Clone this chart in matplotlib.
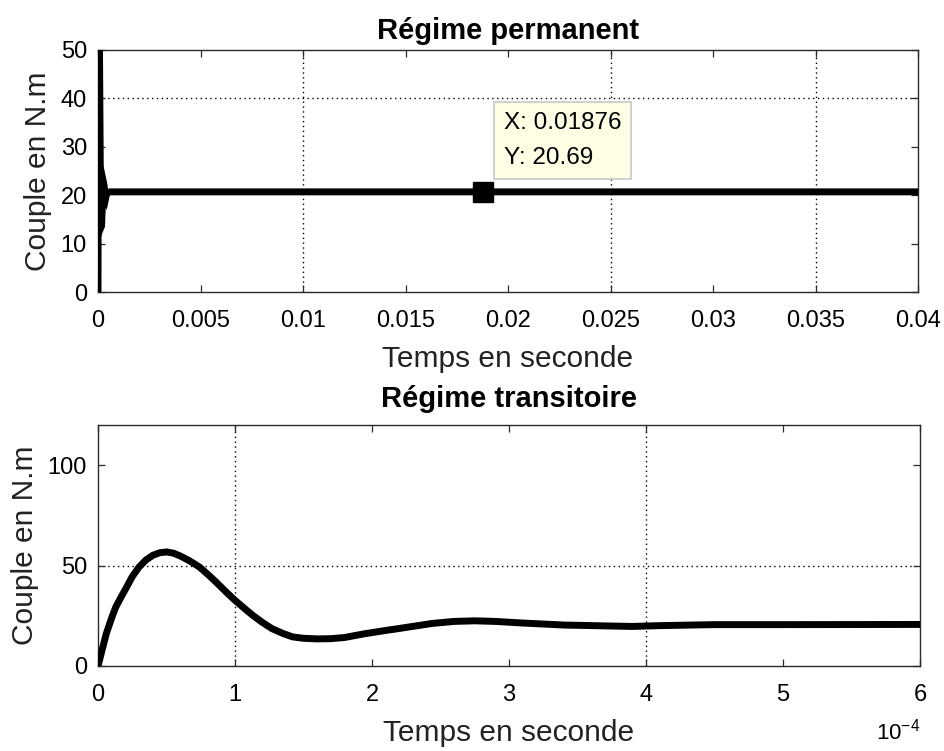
import numpy as np
import matplotlib
matplotlib.use("Agg")
import matplotlib.pyplot as plt
from matplotlib.ticker import FuncFormatter

plt.rcParams['font.family'] = ['Liberation Sans', 'DejaVu Sans']
plt.rcParams['mathtext.fontset'] = 'custom'
plt.rcParams['mathtext.rm'] = 'Liberation Sans'
plt.rcParams['mathtext.it'] = 'Liberation Sans'

# Electromagnetic torque of the machine during start-up (time in units of 1e-4 s)
temps_1e4 = [0.00, 0.03, 0.06, 0.10, 0.13, 0.17, 0.21, 0.25, 0.30, 0.35, 0.40,
             0.45, 0.50, 0.55, 0.60, 0.67, 0.74, 0.80, 0.86, 0.93, 1.00, 1.07,
             1.13, 1.20, 1.27, 1.35, 1.42, 1.50, 1.60, 1.70, 1.80, 1.95, 2.10,
             2.20, 2.44, 2.60, 2.75, 2.90, 3.10, 3.40, 3.75, 3.90, 4.10, 4.50,
             5.00, 6.00]
couple_trans = [0.0, 8.0, 16.0, 24.0, 29.4, 34.5, 39.4, 44.5, 49.3, 52.8, 55.1,
                56.4, 56.8, 56.2, 54.8, 52.3, 49.3, 45.7, 41.9, 37.2, 32.7, 28.6,
                25.2, 21.7, 18.6, 16.2, 14.5, 13.8, 13.5, 13.6, 14.2, 16.1, 17.7,
                18.7, 21.2, 22.2, 22.5, 22.2, 21.4, 20.4, 19.9, 19.7, 20.1, 20.6,
                20.6, 20.69]

# Steady-state part of the simulation (seconds)
temps_perm = [0.01876, 0.04]
couple_perm = [20.69, 20.69]

# Data cursor
tip_x = 0.01876
tip_y = 20.69

temps = np.concatenate([np.array(temps_1e4) * 1e-4, temps_perm])
couple = np.concatenate([couple_trans, couple_perm])

# Upper plot settings
xticks_top = [0, 0.005, 0.01, 0.015, 0.02, 0.025, 0.03, 0.035, 0.04]
xtick_labels_top = ['0', '0.005', '0.01', '0.015', '0.02', '0.025', '0.03', '0.035', '0.04']
yticks_top = [0, 10, 20, 30, 40, 50]
grid_x_top = [0.01, 0.025, 0.035]
grid_y_top = [40]

# Lower plot settings
xticks_bot_1e4 = [0, 1, 2, 3, 4, 5, 6]
yticks_bot = [0, 50, 100]
grid_x_bot_1e4 = [1, 4]
grid_y_bot = [50]

W, H = 944, 751
fig = plt.figure(figsize=(W / 100, H / 100), dpi=100)
fig.patch.set_facecolor('white')

def px_axes(left, top, right, bottom):
    return fig.add_axes([left / W, 1 - bottom / H, (right - left) / W, (bottom - top) / H])

ax1 = px_axes(98, 50, 918, 292)
ax2 = px_axes(98, 425, 920, 666)

line_kw = dict(color='black', lw=5.0, solid_joinstyle='miter', solid_capstyle='butt')
grid_kw = dict(color='black', lw=1.0, linestyle=(0, (1, 2.5)), zorder=0.5)

for ax in (ax1, ax2):
    for s in ax.spines.values():
        s.set_color('#2b2b2b')
        s.set_linewidth(1.0)
    ax.tick_params(direction='in', top=True, right=True, length=5, width=0.9,
                   colors='#2b2b2b', labelcolor='black', labelsize=17)
    ax.tick_params(axis='x', pad=13)
    ax.tick_params(axis='y', pad=8)

# Upper plot: full simulation
ax1.plot(temps, couple, **line_kw, zorder=3)
ax1.set_xlim(0, 0.04)
ax1.set_ylim(0, 50)
ax1.set_xticks(xticks_top)
ax1.set_xticklabels(xtick_labels_top)
ax1.set_yticks(yticks_top)
for gx in grid_x_top:
    ax1.axvline(gx, **grid_kw)
for gy in grid_y_top:
    ax1.axhline(gy, **grid_kw)
ax1.set_title('Régime permanent', fontsize=21, fontweight='bold', pad=8)
ax1.set_xlabel('Temps en seconde', fontsize=21.5, labelpad=9, color='#222222')
ax1.set_ylabel('Couple en N.m', fontsize=21.5, labelpad=6, color='#222222')

ax1.plot([tip_x], [tip_y], marker='s', markersize=14, color='black', zorder=4)
ax1.annotate(f'X: {tip_x:.5f}\nY: {tip_y:.2f}', xy=(tip_x, tip_y),
             xytext=(21, 23), textcoords='offset pixels', ha='left', va='bottom',
             fontsize=17.5, linespacing=1.75, zorder=5,
             bbox=dict(boxstyle='square,pad=0.4', fc='#ffffe6', ec='#c8c8c8', lw=1.2))

# Lower plot: start-up transient
ax2.plot(temps, couple, **line_kw, zorder=3)
ax2.set_xlim(0, 6e-4)
ax2.set_ylim(0, 120)
ax2.set_xticks(np.array(xticks_bot_1e4) * 1e-4)
ax2.xaxis.set_major_formatter(FuncFormatter(lambda v, p: f'{v / 1e-4:.0f}'))
ax2.set_yticks(yticks_bot)
for gx in grid_x_bot_1e4:
    ax2.axvline(gx * 1e-4, **grid_kw)
for gy in grid_y_bot:
    ax2.axhline(gy, **grid_kw)
ax2.set_title('Régime transitoire', fontsize=21, fontweight='bold', pad=13)
ax2.set_xlabel('Temps en seconde', fontsize=21.5, labelpad=9, color='#222222')
ax2.set_ylabel('Couple en N.m', fontsize=21.5, labelpad=6, color='#222222')
ax2.text(1.0, -0.22, r'$10^{-4}$', transform=ax2.transAxes, ha='right', va='top',
         fontsize=16)

fig.savefig('out.png', dpi=100, facecolor='white')
